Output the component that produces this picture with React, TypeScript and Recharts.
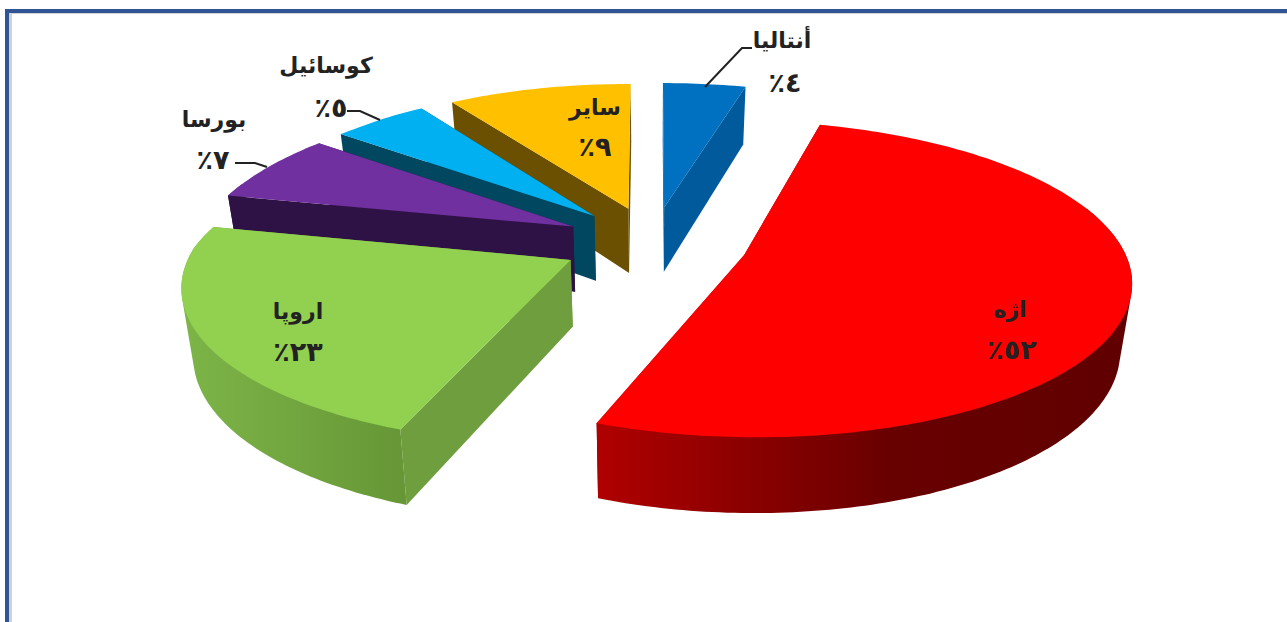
import React from 'react';
import { PieChart, Pie } from 'recharts';

// Slices, listed counter-clockwise from twelve o'clock (so nearer slices paint last)
const sliceNames = ['سایر', 'کوسائیل', 'بورسا', 'اروپا', 'اژه', 'أنتاليا'];
const sliceValues = [9, 5, 7, 23, 52, 4];
const percentLabels = ['٩٪', '٥٪', '٧٪', '٢٣٪', '٥٢٪', '٤٪'];

const topColors = ['#FFC000', '#00B0F0', '#7030A0', '#92D050', '#FF0000', '#0070C0'];
const wallColors = ['#6A5000', '#01475F', '#2F1245', '#6F9E3E', '#7A0000', '#005A9C'];
const rimStops: string[][] = [
  ['#6A5000', '#6A5000'],
  ['#01475F', '#01475F'],
  ['#2F1245', '#2F1245'],
  ['#7DB548', '#669636'],
  ['#B00000', '#600000'],
  ['#005A9C', '#005A9C'],
];
const explosions = [0.24, 0.24, 0.24, 0.24, 0.25, 0.24];

// Layout of the projected 3D pie
const CX = 653;
const CY = 248;
const RADIUS = 380;
const Y_SCALE = 0.4026;
const PERSPECTIVE = 0.12;
const PERSPECTIVE_FAR_LEFT = 0.16;
const FAR_LEFT_CAP = 1.14;
const PERSPECTIVE_D = 0.12;
const DEPTH = 66;
const FLOOR_SCALE = 0.975;
const APEX_LIFT = -5;

const labelBoxes = [
  { nameX: 595, nameY: 108, pctX: 595, pctY: 147, leader: null },
  { nameX: 326, nameY: 66, pctX: 331, pctY: 108, leader: '347,111 360,111 380,120' },
  { nameX: 214, nameY: 120, pctX: 213, pctY: 160, leader: '235,163 255,163 267,167' },
  { nameX: 298, nameY: 312, pctX: 298, pctY: 352, leader: null },
  { nameX: 1010, nameY: 310, pctX: 1012, pctY: 350, leader: null },
  { nameX: 782, nameY: 41, pctX: 785, pctY: 83, leader: '705,87 742,48 752,48' },
];

type Pt = { x: number; y: number };

const rad = (d: number) => (d * Math.PI) / 180;

function project(theta: number, r: number, mid: number, drop: number, R: number, cx: number, cy: number, explode: number): Pt {
  const X = r * Math.sin(rad(theta)) + explode * Math.sin(rad(mid));
  const Y = -r * Math.cos(rad(theta)) - explode * Math.cos(rad(mid));
  const wx = X < 0 && Y < 0 ? Math.min(1 - PERSPECTIVE_FAR_LEFT * Y, FAR_LEFT_CAP) : 1 - PERSPECTIVE * Y;
  const floor = 1 - drop * (1 - FLOOR_SCALE);
  return {
    x: cx + (floor * (R * X)) / wx,
    y: cy + (R * Y_SCALE * Y) / (1 - PERSPECTIVE * Y) + (drop * DEPTH) / (1 - PERSPECTIVE_D * Y) + (r === 0 ? APEX_LIFT : 0),
  };
}

const toPath = (pts: Pt[]) => 'M' + pts.map((p) => `${p.x.toFixed(2)},${p.y.toFixed(2)}`).join('L') + 'Z';

function arcThetas(a: number, b: number) {
  const out: number[] = [];
  const n = Math.max(2, Math.ceil(Math.abs(b - a)));
  for (let i = 0; i <= n; i++) out.push(a + ((b - a) * i) / n);
  return out;
}

function convexHull(points: Pt[]): Pt[] {
  const pts = [...points].sort((p, q) => p.x - q.x || p.y - q.y);
  const cross = (o: Pt, p: Pt, q: Pt) => (p.x - o.x) * (q.y - o.y) - (p.y - o.y) * (q.x - o.x);
  const half = (list: Pt[]) => {
    const h: Pt[] = [];
    for (const p of list) {
      while (h.length >= 2 && cross(h[h.length - 2], h[h.length - 1], p) <= 0) h.pop();
      h.push(p);
    }
    h.pop();
    return h;
  };
  return [...half(pts), ...half([...pts].reverse())];
}

function Slice3D(props: any) {
  const { cx, cy, outerRadius: R, startAngle, endAngle, index } = props;
  const a = 90 - Math.max(startAngle, endAngle);
  const b = 90 - Math.min(startAngle, endAngle);
  const mid = (a + b) / 2;
  const P = (t: number, r: number, d: number) => project(t, r, mid, d, R, cx, cy, explosions[index]);
  const thetas = arcThetas(a, b);
  const top = [P(mid, 0, 0), ...thetas.map((t) => P(t, 1, 0))];
  const wall = (t: number) => [P(mid, 0, 0), P(t, 1, 0), P(t, 1, 1), P(mid, 0, 1)];

  // Rim is only needed on the side facing the viewer
  const isFacing = (t: number) => {
    const n = ((t % 360) + 360) % 360;
    return n > 70 && n < 290;
  };
  const rimThetas = thetas.filter(isFacing);
  const rim =
    rimThetas.length > 1
      ? convexHull([...rimThetas.map((t) => P(t, 1, 0)), ...rimThetas.map((t) => P(t, 1, 1))])
      : null;
  const gradId = `rim-${index}`;
  return (
    <g>
      <defs>
        <linearGradient id={gradId} x1="0" y1="0" x2="1" y2="0">
          {index === 4 ? (
            <>
              <stop offset="0" stopColor={rimStops[index][0]} />
              <stop offset="0.55" stopColor="#680000" />
              <stop offset="1" stopColor={rimStops[index][1]} />
            </>
          ) : (
            <>
              <stop offset="0" stopColor={rimStops[index][0]} />
              <stop offset="1" stopColor={rimStops[index][1]} />
            </>
          )}
        </linearGradient>
      </defs>
      <path d={toPath(wall(a))} fill={wallColors[index]} />
      <path d={toPath(wall(b))} fill={wallColors[index]} />
      {rim && <path d={toPath(rim)} fill={`url(#${gradId})`} />}
      <path d={toPath(top)} fill={topColors[index]} />
    </g>
  );
}

const FONT = '"DejaVu Sans", sans-serif';

function SliceLabel(props: any) {
  const { index } = props;
  const box = labelBoxes[index];
  const textProps = {
    textAnchor: 'middle' as const,
    fontFamily: FONT,
    fontWeight: 700,
    fill: '#222222',
    style: { direction: 'rtl' as const },
  };
  return (
    <g>
      {box.leader && <polyline points={box.leader} fill="none" stroke="#222222" strokeWidth={2} />}
      <text x={box.nameX} y={box.nameY} dy={7} fontSize={22} {...textProps}>
        {sliceNames[index]}
      </text>
      <text x={box.pctX} y={box.pctY} dy={9} fontSize={27} {...textProps}>
        {percentLabels[index]}
      </text>
    </g>
  );
}

const tableData = sliceNames.map((name, i) => ({ name, value: sliceValues[i] }));

export default function App() {
  return (
    <div style={{ position: 'absolute', left: 0, top: 0, width: 1287, height: 622, overflow: 'hidden', background: '#fff' }}>
      <div
        style={{
          position: 'absolute',
          left: 5,
          top: 9,
          width: 1300,
          height: 640,
          borderLeft: '4px solid #2F5597',
          borderTop: '4px solid #2F5597',
          boxShadow: 'inset 3px 1px 0 #D0D0D0',
        }}
      />
      <div style={{ position: 'absolute', left: 0, top: 0 }}>
        <PieChart width={1287} height={622} margin={{ top: 0, right: 0, bottom: 0, left: 0 }}>
          <Pie
            data={tableData}
            dataKey="value"
            nameKey="name"
            cx={CX}
            cy={CY}
            innerRadius={0}
            outerRadius={RADIUS}
            startAngle={90}
            endAngle={450}
            isAnimationActive={false}
            shape={Slice3D}
            label={SliceLabel}
            labelLine={false}
          />
        </PieChart>
      </div>
    </div>
  );
}
